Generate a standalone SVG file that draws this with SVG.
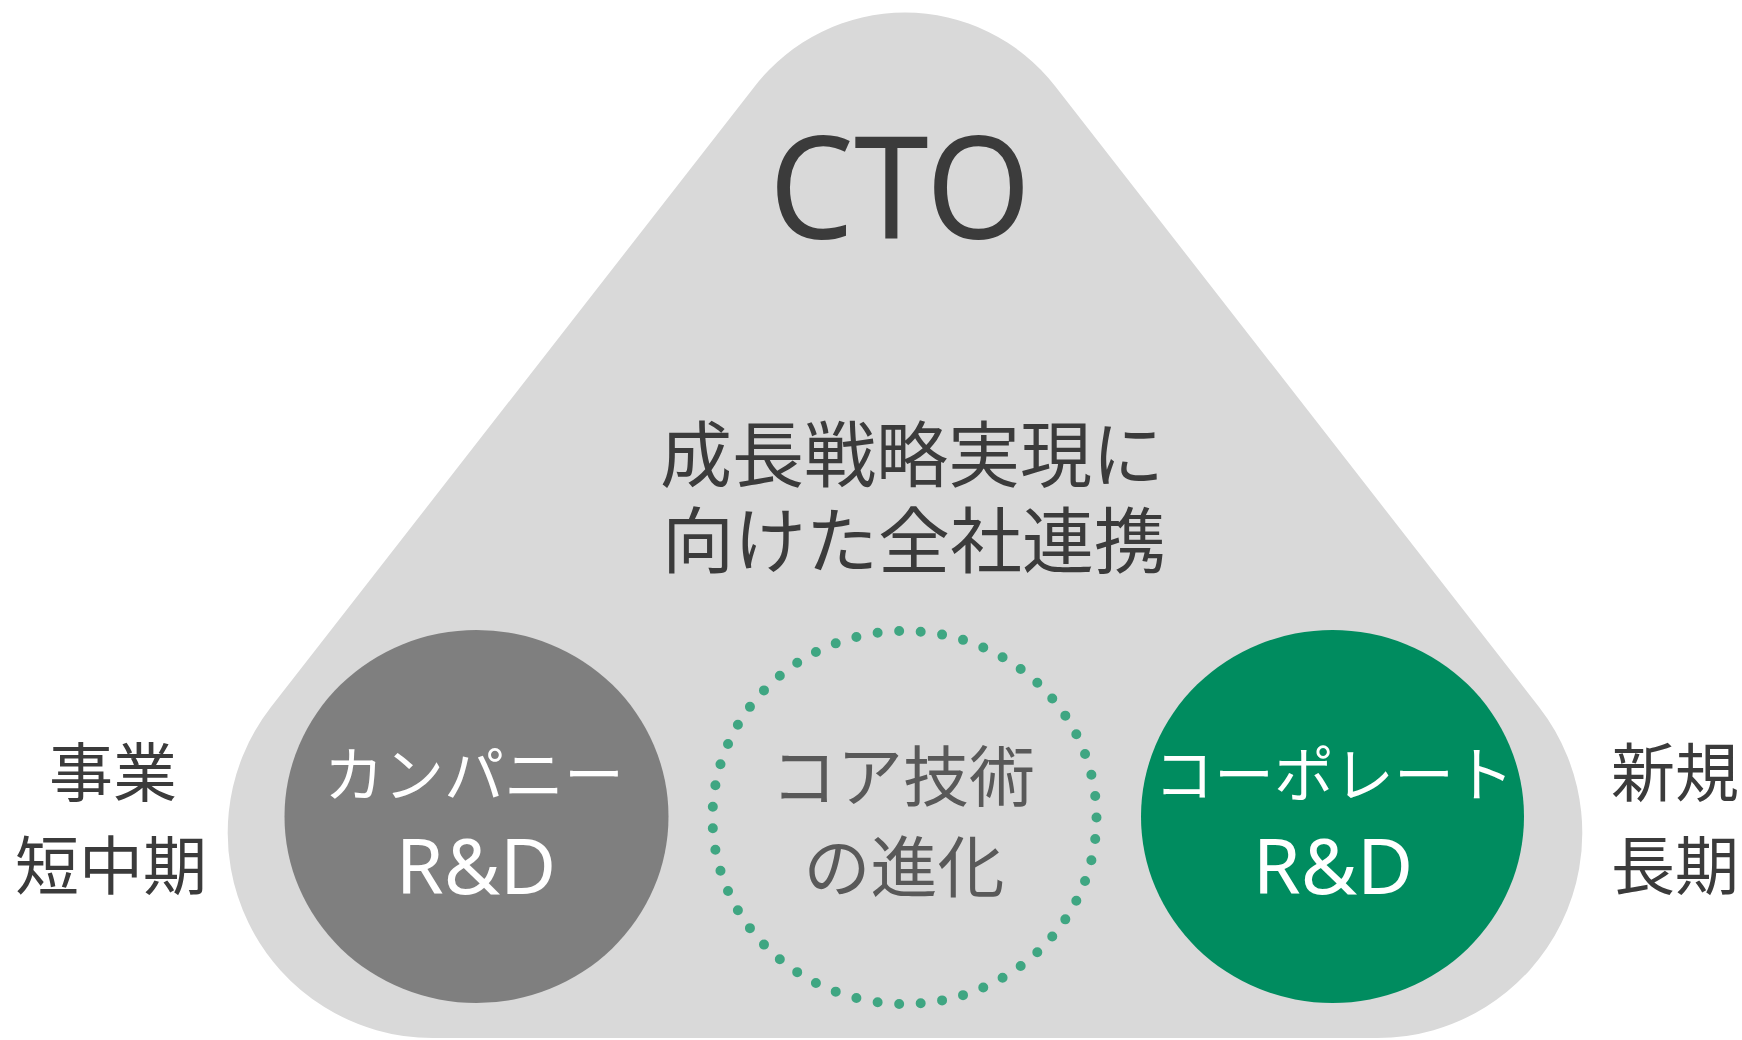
<svg xmlns="http://www.w3.org/2000/svg" width="1742" height="1040" viewBox="0 0 1742 1040">
<style>
.ja{font-family:"Noto Sans CJK JP","Noto Sans",sans-serif;text-anchor:middle}
.lat{font-family:"Noto Sans","Open Sans",sans-serif;text-anchor:middle}
.dark{fill:#3b3b3b}
.mid{fill:#595959}
.white{fill:#ffffff}
</style>
<rect width="1742" height="1040" fill="#ffffff"/>
<g id="base">
<path d="M755,86 A190,190 0 0 1 1055,86 L1539,707 A205,205 0 0 1 1377,1038 L433,1038 A205,205 0 0 1 271,707 Z" fill="#d9d9d9"/>
</g>
<g id="cto">
<text class="lat dark" x="900" y="239" font-size="142" textLength="262" lengthAdjust="spacingAndGlyphs">CTO</text>
</g>
<g id="goal">
<text class="ja dark" x="912" y="481" font-size="72">成長戦略実現に</text>
<text class="ja dark" x="914" y="567" font-size="72">向けた全社連携</text>
</g>
<g id="company-rd">
<ellipse cx="476.5" cy="816.5" rx="192" ry="186.5" fill="#7f7f7f"/>
<text class="ja white" x="474" y="797" font-size="60">カンパニー</text>
<text class="lat white" x="476" y="894" font-size="77">R&amp;D</text>
</g>
<g id="core-tech">
<ellipse cx="904.5" cy="817.5" rx="192" ry="186.5" fill="none" stroke="#3fa682" stroke-width="10" stroke-linecap="round" stroke-dasharray="0 1" pathLength="55"/>
<text class="ja mid" x="903" y="801" font-size="66">コア技術</text>
<text class="ja mid" x="904" y="892" font-size="67">の進化</text>
</g>
<g id="corporate-rd">
<ellipse cx="1332.5" cy="816.5" rx="191.5" ry="186.5" fill="#008c5f"/>
<text class="ja white" x="1334" y="797" font-size="60">コーポレート</text>
<text class="lat white" x="1333" y="894" font-size="77">R&amp;D</text>
</g>
<g id="left-label">
<text class="ja dark" x="113" y="796" font-size="64">事業</text>
<text class="ja dark" x="111" y="889" font-size="64">短中期</text>
</g>
<g id="right-label">
<text class="ja dark" x="1675" y="796" font-size="64">新規</text>
<text class="ja dark" x="1675" y="889" font-size="64">長期</text>
</g>
<g id="connectors"></g>
</svg>
